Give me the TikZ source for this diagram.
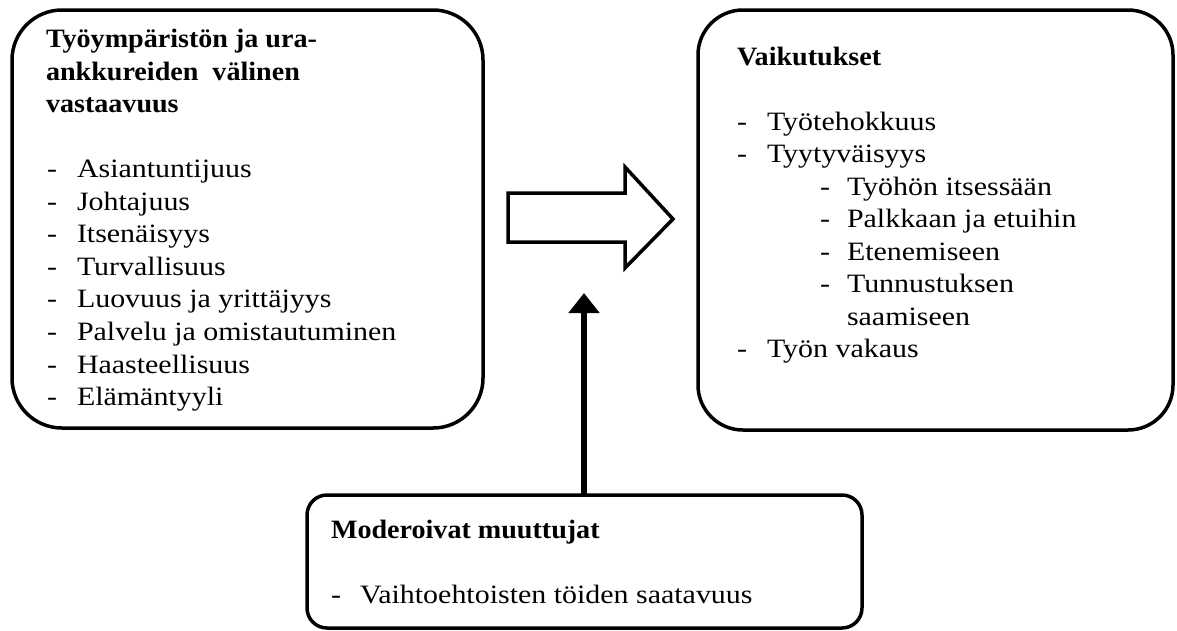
\documentclass[tikz,border=0pt]{standalone}
\usepackage{fontspec}
\setmainfont{Liberation Serif}[FakeStretch=1.13, BoldFeatures={FakeStretch=1.06}]
\usetikzlibrary{arrows.meta}
\begin{document}
\begin{tikzpicture}[x=1pt,y=-1pt,
  box/.style={draw, line width=3.5pt, inner sep=0pt, outer sep=0pt},
  txt/.style={anchor=base west, inner sep=0pt, outer sep=0pt, font=\fontsize{26.5}{30}\selectfont},
  ttl/.style={txt, font=\fontsize{26.5}{30}\selectfont\bfseries},
  blockarrow/.style={draw, line width=3.5pt, line join=miter, fill=white},
  modarrow/.style={line width=6pt, -{Triangle[width=30pt 0 0,length=20pt 0 0]}}
]
\useasboundingbox[fill=white] (0,0) rectangle (1177,630);

% boxes
\node[box, rounded corners=50pt, minimum width=471pt, minimum height=418pt] (lbox) at (247.5,219) {};
\node[box, rounded corners=45pt, minimum width=475pt, minimum height=420pt] (rbox) at (935.5,220) {};
\node[box, rounded corners=20pt, minimum width=555pt, minimum height=133pt] (bbox) at (584.5,561.5) {};

% left box texts
\node[ttl] (lt1) at (46,47.5) {Työympäristön ja ura-};
\node[ttl] (lt2) at (46,80) {ankkureiden\ \ välinen};
\node[ttl] (lt3) at (46,112.5) {vastaavuus};
\foreach \t [count=\i from 0] in {Asiantuntijuus, Johtajuus, Itsenäisyys, Turvallisuus, Luovuus ja yrittäjyys, Palvelu ja omistautuminen, Haasteellisuus, Elämäntyyli}{
  \node[txt] (ld\i) at (47,{177.5+32.6*\i}) {-};
  \node[txt] (li\i) at (77,{177.5+32.6*\i}) {\t};
}

% right box texts
\node[ttl] (rt) at (737,65) {Vaikutukset};
\node[txt] (rd0) at (737,130) {-};
\node[txt] (ri0) at (767,130) {Työtehokkuus};
\node[txt] (rd1) at (737,162.5) {-};
\node[txt] (ri1) at (767,162.5) {Tyytyväisyys};
\foreach \t [count=\i from 0] in {Työhön itsessään, Palkkaan ja etuihin, Etenemiseen, Tunnustuksen}{
  \node[txt] (sd\i) at (820,{195+32.5*\i}) {-};
  \node[txt] (si\i) at (847,{195+32.5*\i}) {\t};
}
\node[txt] (si4) at (847,325) {saamiseen};
\node[txt] (rd2) at (737,357.5) {-};
\node[txt] (ri2) at (767,357.5) {Työn vakaus};

% bottom box texts
\node[ttl] (bt) at (331,538) {Moderoivat muuttujat};
\node[txt] (bd0) at (331,603) {-};
\node[txt] (bi0) at (360,603) {Vaihtoehtoisten töiden saatavuus};

% block arrow between left and right box
\draw[blockarrow] (508,193) -- (625,193) -- (625,167) -- (673,219) -- (625,268) -- (625,242) -- (508,242) -- cycle;

% moderating arrow
\coordinate (modtip) at (584,293);
\draw[modarrow] (bbox.north -| modtip) -- (modtip);
\end{tikzpicture}
\end{document}
